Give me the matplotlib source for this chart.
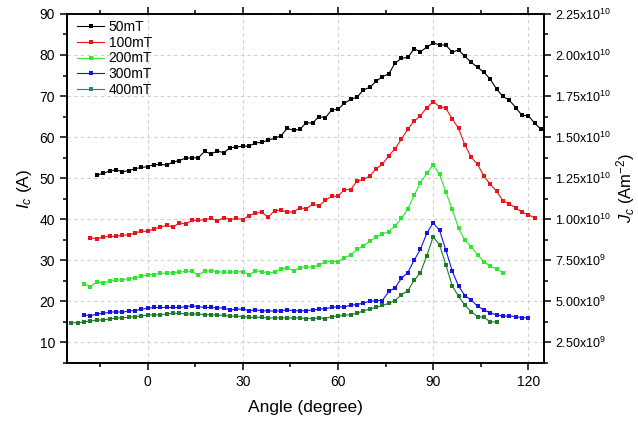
import matplotlib
matplotlib.use("Agg")
import matplotlib.pyplot as plt
from matplotlib.lines import Line2D
from matplotlib.ticker import MultipleLocator, FixedLocator
import numpy as np

plt.rcParams['font.family'] = ['Liberation Sans', 'DejaVu Sans']
plt.rcParams['mathtext.fontset'] = 'custom'
plt.rcParams['mathtext.rm'] = 'Liberation Sans'
plt.rcParams['mathtext.it'] = 'Liberation Sans:italic'

# ---- data (angle in degree, Ic in A) ----
ang_50 = list(range(-16, 125, 2))
ic_50 = [50.7, 51.2, 51.7, 52.0, 51.6, 51.8, 52.3, 52.6, 52.8, 53.3, 53.35, 53.2, 53.9, 54.3,
         54.9, 54.9, 55.0, 56.5, 55.9, 56.6, 56.2, 57.4, 57.6, 57.8, 57.8, 58.6, 58.7, 59.3,
         59.7, 60.3, 62.1, 61.7, 61.9, 63.5, 63.4, 65.0, 64.7, 66.6, 66.8, 68.2, 69.2, 69.7,
         71.5, 72.1, 73.6, 74.7, 75.4, 78.0, 79.2, 79.4, 81.5, 80.8, 81.9, 82.9, 82.5, 82.4,
         80.7, 81.2, 79.7, 78.2, 77.0, 75.8, 74.1, 71.7, 69.9, 69.0, 67.2, 65.3, 65.2, 63.4, 61.9]

ang_100 = list(range(-18, 123, 2))
ic_100 = [35.5, 35.2, 35.7, 35.8, 35.8, 36.1, 36.2, 36.65, 37.05, 37.05, 37.6, 38.1, 38.5, 38.1,
          39.1, 38.85, 39.7, 39.7, 39.9, 40.2, 39.6, 40.4, 39.9, 40.2, 39.9, 40.9, 41.5, 41.7,
          40.5, 42.1, 42.2, 41.7, 41.8, 42.8, 42.5, 43.7, 43.2, 44.6, 45.6, 45.6, 47.2, 47.2,
          49.3, 49.7, 50.5, 52.3, 53.35, 55.5, 57.2, 59.5, 61.9, 63.9, 65.2, 67.2, 68.6, 67.45,
          67.0, 64.5, 62.1, 58.1, 55.1, 53.35, 50.5, 48.5, 46.8, 44.5, 43.7, 42.8, 41.7, 41.1, 40.3]

ang_200 = list(range(-20, 113, 2))
ic_200 = [24.2, 23.6, 24.7, 24.5, 24.9, 25.1, 25.3, 25.5, 25.8, 26.1, 26.5, 26.5, 26.9, 26.8,
          27.0, 27.1, 27.3, 27.3, 26.4, 27.4, 27.4, 27.2, 27.1, 27.1, 27.2, 27.2, 26.5, 27.4,
          27.2, 27.0, 27.1, 27.8, 28.1, 27.5, 28.2, 28.4, 28.3, 28.9, 29.6, 29.7, 29.7, 30.6,
          31.3, 32.7, 33.5, 34.6, 35.6, 36.4, 37.0, 38.4, 40.2, 42.5, 45.8, 48.9, 51.2, 53.3,
          50.9, 46.6, 42.4, 37.8, 34.9, 33.3, 31.3, 29.7, 28.5, 27.9, 27.0]

ang_300 = list(range(-20, 121, 2))
ic_300 = [16.7, 16.5, 16.9, 17.1, 17.3, 17.5, 17.3, 17.7, 17.7, 18.1, 18.3, 18.5, 18.5, 18.5,
          18.5, 18.5, 18.7, 18.9, 18.7, 18.5, 18.5, 18.4, 18.4, 17.9, 18.1, 18.1, 17.7, 17.9,
          17.7, 17.7, 17.6, 17.7, 17.9, 17.7, 17.7, 17.7, 17.9, 18.1, 18.2, 18.5, 18.7, 18.6,
          19.1, 19.2, 19.6, 20.0, 20.2, 20.2, 22.4, 23.3, 25.6, 27.0, 30.0, 32.7, 36.6, 39.1,
          37.3, 32.5, 27.4, 23.7, 21.4, 20.3, 18.8, 17.9, 17.2, 16.7, 16.4, 16.4, 16.3, 16.0, 16.0]

ang_400 = list(range(-24, 111, 2))
ic_400 = [14.8, 14.8, 15.0, 15.2, 15.45, 15.45, 15.7, 15.9, 16.0, 16.1, 16.3, 16.4, 16.7, 16.7,
          16.7, 16.9, 17.1, 17.1, 16.9, 16.9, 16.9, 16.75, 16.75, 16.6, 16.6, 16.4, 16.4, 16.3,
          16.1, 16.1, 16.1, 15.95, 15.95, 15.95, 15.95, 15.95, 15.95, 15.8, 15.8, 15.95, 15.8,
          16.3, 16.4, 16.6, 16.75, 17.1, 17.7, 18.1, 18.55, 19.0, 19.5, 20.2, 21.6, 22.6, 25.1,
          27.0, 31.1, 35.7, 33.8, 28.9, 23.8, 21.2, 19.0, 17.5, 16.3, 16.1, 15.0, 15.0]

labels = ['50mT', '100mT', '200mT', '300mT', '400mT']
colors = ['#000000', '#e8161b', '#2ee62e', '#1414e6', '#1f7a2a']
legend_colors = ['#000000', '#e8161b', '#2ee62e', '#1414e6', '#26867a']

x_ticks = [0, 30, 60, 90, 120]
y_ticks = [10, 20, 30, 40, 50, 60, 70, 80, 90]
j_ticks = [2.5e9, 5.0e9, 7.5e9, 1.0e10, 1.25e10, 1.5e10, 1.75e10, 2.0e10, 2.25e10]
j_tick_labels = ['2.50x10$^{9}$', '5.00x10$^{9}$', '7.50x10$^{9}$', '1.00x10$^{10}$',
                 '1.25x10$^{10}$', '1.50x10$^{10}$', '1.75x10$^{10}$', '2.00x10$^{10}$',
                 '2.25x10$^{10}$']
j_per_amp = 2.5e8

fig = plt.figure(figsize=(6.38, 4.22), dpi=100)
ax = fig.add_axes([0.105, 0.14, 0.748, 0.827])

series = [(ang_50, ic_50), (ang_100, ic_100), (ang_200, ic_200), (ang_300, ic_300), (ang_400, ic_400)]
for (a, v), c, lab in zip(series, colors, labels):
    ax.plot(a, v, color=c, lw=0.8, marker='s', markersize=3.2, markeredgewidth=0, label=lab)

ax.set_xlim(-25.4, 125)
ax.set_ylim(5, 90)
ax.xaxis.set_major_locator(FixedLocator(x_ticks))
ax.xaxis.set_minor_locator(MultipleLocator(15))
ax.yaxis.set_major_locator(FixedLocator(y_ticks))
ax.yaxis.set_minor_locator(MultipleLocator(5))
ax.grid(True, which='major', color='#cfcfcf', linestyle=(0, (3, 3)), lw=0.8)
ax.set_axisbelow(True)

ax.tick_params(which='both', direction='out', labelsize=10, width=1.1, top=True)
ax.tick_params(which='major', length=5)
ax.tick_params(which='minor', length=3)
ax.tick_params(axis='x', which='both', labeltop=False)
for s in ax.spines.values():
    s.set_linewidth(1.2)

ax.set_xlabel('Angle (degree)', fontsize=12.5, labelpad=8)
ax.set_ylabel('$I_c$ (A)', fontsize=12.5, labelpad=4)

ax2 = ax.twinx()
ax2.set_ylim(5 * j_per_amp, 90 * j_per_amp)
ax2.yaxis.set_major_locator(FixedLocator(j_ticks))
ax2.set_yticklabels(j_tick_labels)
ax2.yaxis.set_minor_locator(MultipleLocator(1.25e9))
ax2.tick_params(which='both', direction='out', labelsize=9, width=1.1, pad=3)
ax2.tick_params(which='major', length=5)
ax2.tick_params(which='minor', length=3)
for s in ax2.spines.values():
    s.set_linewidth(1.2)
ax2.set_ylabel('$J_c$ (Am$^{-2}$)', fontsize=12, labelpad=2)

handles = [Line2D([0], [0], color=c, lw=0.8, marker='s', markersize=3.2, markeredgewidth=0)
           for c in legend_colors]
ax.legend(handles, labels, loc='upper left', frameon=False, fontsize=10,
          handlelength=2.0, handletextpad=0.3, labelspacing=0.12, borderaxespad=0.3,
          bbox_to_anchor=(0.0, 1.01))

fig.savefig('out.png', dpi=100)
